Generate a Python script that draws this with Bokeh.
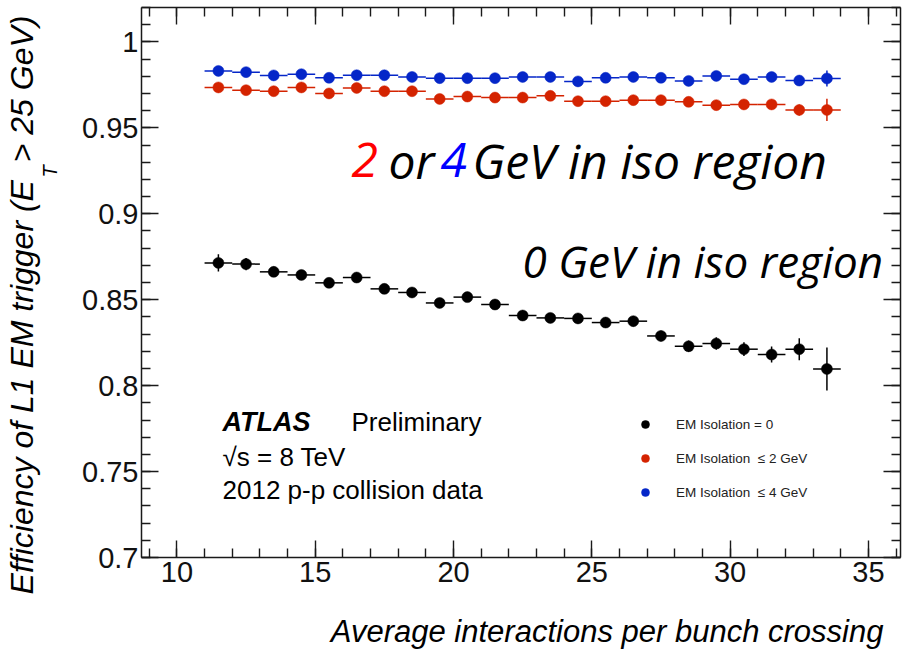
import math
from bokeh.plotting import figure
from bokeh.models import (Range1d, LinearAxis, SingleIntervalTicker, CustomJSTickFormatter,
                          Label, Legend, LegendItem, ColumnDataSource, Title)
from bokeh.embed import file_html
from bokeh.resources import INLINE

# ---- data: L1 EM trigger efficiency vs. pile-up ----
mu = [11.5, 12.5, 13.5, 14.5, 15.5, 16.5, 17.5, 18.5, 19.5, 20.5, 21.5, 22.5,
      23.5, 24.5, 25.5, 26.5, 27.5, 28.5, 29.5, 30.5, 31.5, 32.5, 33.5]
bin_half_width = 0.5

eff_iso0 = [0.8714, 0.8707, 0.8662, 0.8644, 0.8598, 0.8629, 0.8563, 0.8542, 0.8481, 0.8515,
            0.8472, 0.8408, 0.8394, 0.8391, 0.8367, 0.8375, 0.8289, 0.8229, 0.8245, 0.8212,
            0.8181, 0.8212, 0.8097]
err_iso0 = [0.0050, 0.0036, 0.0030, 0.0028, 0.0027, 0.0026, 0.0026, 0.0026, 0.0026, 0.0026,
            0.0027, 0.0027, 0.0028, 0.0028, 0.0029, 0.0030, 0.0031, 0.0033, 0.0036, 0.0040,
            0.0046, 0.0064, 0.0125]

eff_iso2 = [0.9735, 0.9719, 0.9713, 0.9735, 0.9700, 0.9732, 0.9713, 0.9713, 0.9668, 0.9682,
            0.9676, 0.9676, 0.9686, 0.9655, 0.9655, 0.9661, 0.9661, 0.9651, 0.9632, 0.9636,
            0.9636, 0.9604, 0.9604]
err_iso2 = [0.0025, 0.0018, 0.0016, 0.0015, 0.0015, 0.0015, 0.0015, 0.0015, 0.0015, 0.0015,
            0.0015, 0.0015, 0.0016, 0.0016, 0.0016, 0.0017, 0.0018, 0.0019, 0.0020, 0.0022,
            0.0026, 0.0032, 0.0065]

eff_iso4 = [0.9831, 0.9824, 0.9805, 0.9812, 0.9791, 0.9806, 0.9806, 0.9796, 0.9789, 0.9789,
            0.9789, 0.9796, 0.9796, 0.9770, 0.9791, 0.9796, 0.9791, 0.9773, 0.9802, 0.9783,
            0.9796, 0.9775, 0.9787]
err_iso4 = [0.0020, 0.0015, 0.0013, 0.0012, 0.0012, 0.0012, 0.0012, 0.0012, 0.0012, 0.0012,
            0.0012, 0.0012, 0.0013, 0.0013, 0.0013, 0.0014, 0.0015, 0.0016, 0.0017, 0.0019,
            0.0022, 0.0028, 0.0047]

series_labels = ["EM Isolation = 0", "EM Isolation \u00a0\u2264 2 GeV", "EM Isolation \u00a0\u2264 4 GeV"]
series_colors = ["#000000", "#d42300", "#0526c8"]

NB = "\u00a0"
# axis titles are centred on the frame; leading no-break spaces push the words to the far end
x_title = NB * 20 + "Average interactions per bunch crossing"
y_title_main = "Efficiency of L1 EM trigger (E" + NB * 2 + "> 25 GeV)"
y_title_sub = NB * 40 + "T"

X0, X1 = 8.72, 36.16
Y0, Y1 = 0.70, 1.02

W, H = 904, 651
BL, BR, BT, BB = 141, 4, 7, 94

p = figure(width=W, height=H, x_range=Range1d(X0, X1), y_range=Range1d(Y0, Y1),
           output_backend="svg", toolbar_location=None,
           min_border_left=BL, min_border_right=BR, min_border_top=BT, min_border_bottom=BB)
p.outline_line_color = None
p.xgrid.visible = False
p.ygrid.visible = False
p.background_fill_color = "white"
p.border_fill_color = "white"


def style_axis(ax, show_labels):
    ax.major_tick_in = 17
    ax.major_tick_out = 0
    ax.minor_tick_in = 9
    ax.minor_tick_out = 0
    ax.axis_line_width = 1.5
    ax.axis_line_color = "#1a1a1a"
    ax.major_tick_line_width = 1.4
    ax.minor_tick_line_width = 1.4
    ax.major_tick_line_color = "#1a1a1a"
    ax.minor_tick_line_color = "#1a1a1a"
    if show_labels:
        ax.major_label_text_font = "Liberation Sans"
        ax.major_label_text_font_size = "29px"
        ax.major_label_text_color = "#111111"
    else:
        ax.major_label_text_font_size = "1px"
        ax.major_label_text_color = None
        ax.major_label_standoff = 0


def style_axis_title(ax, text, size, standoff):
    ax.axis_label = text
    ax.axis_label_standoff = standoff
    ax.axis_label_text_font = "Liberation Sans"
    ax.axis_label_text_font_style = "italic"
    ax.axis_label_text_font_size = f"{size}px"
    ax.axis_label_text_color = "#000000"


p.xaxis.ticker = SingleIntervalTicker(interval=5, num_minor_ticks=5)
p.yaxis.ticker = SingleIntervalTicker(interval=0.05, num_minor_ticks=5)
style_axis(p.xaxis[0], True)
style_axis(p.yaxis[0], True)
p.xaxis.major_label_standoff = 4
p.yaxis.major_label_standoff = 3
p.yaxis.formatter = CustomJSTickFormatter(
    code="return tick.toFixed(2).replace(/0+$/, '').replace(/\\.$/, '');")

# x title under the tick labels; the E_T subscript sits on the inner y axis
style_axis_title(p.xaxis[0], x_title, 31, 29)
style_axis_title(p.yaxis[0], y_title_sub, 20, 18)

# main y title as a side title, right-aligned to the top of the frame
p.add_layout(Title(text=y_title_main, align="right", vertical_align="bottom", offset=8,
                   standoff=-6, text_font="Liberation Sans", text_font_style="italic",
                   text_font_size="32px", text_color="#000000"), "left")

top_axis = LinearAxis(ticker=SingleIntervalTicker(interval=5, num_minor_ticks=5))
right_axis = LinearAxis(ticker=SingleIntervalTicker(interval=0.05, num_minor_ticks=5))
style_axis(top_axis, False)
style_axis(right_axis, False)
p.add_layout(top_axis, "above")
p.add_layout(right_axis, "right")

# ---- data points with bin-width and statistical error bars ----
renderers = []
for eff, err, color in [(eff_iso0, err_iso0, series_colors[0]),
                        (eff_iso2, err_iso2, series_colors[1]),
                        (eff_iso4, err_iso4, series_colors[2])]:
    src = ColumnDataSource(dict(
        x=mu, y=eff,
        xlo=[m - bin_half_width for m in mu], xhi=[m + bin_half_width for m in mu],
        ylo=[v - e for v, e in zip(eff, err)], yhi=[v + e for v, e in zip(eff, err)],
    ))
    p.segment(x0="xlo", x1="xhi", y0="y", y1="y", source=src, line_color=color, line_width=1.5)
    p.segment(x0="x", x1="x", y0="ylo", y1="yhi", source=src, line_color=color, line_width=1.5)
    r = p.scatter(x="x", y="y", source=src, marker="circle", size=11,
                  fill_color=color, line_color=color, line_width=0.5)
    renderers.append(r)

legend = Legend(items=[LegendItem(label=lab, renderers=[r])
                       for lab, r in zip(series_labels, renderers)],
                location=(494, 55), orientation="vertical",
                glyph_width=20, glyph_height=20, label_height=20, label_standoff=21,
                spacing=14, padding=0, margin=0,
                border_line_color=None, background_fill_alpha=0,
                label_text_font="Liberation Sans", label_text_font_size="13.5px",
                label_text_color="#222222")
p.add_layout(legend)


# ---- text annotations inside the frame (positions in canvas pixels) ----
def dx(px):
    return X0 + (px - BL) / (W - BL - BR) * (X1 - X0)


def dy(py):
    return Y1 - (py - BT) / (H - BT - BB) * (Y1 - Y0)


def put(text, px, baseline, size, color="#000000", style="normal", font="Liberation Sans"):
    p.add_layout(Label(x=dx(px), y=dy(baseline - 0.4 * size), text=text, text_font=font,
                       text_font_size=f"{size}px", text_font_style=style, text_color=color,
                       text_align="left", text_baseline="alphabetic"))


# ATLAS label block
put("ATLAS", 222, 432, 27, style="bold italic")
put("Preliminary", 351, 432, 26)
put("\u221as = 8 TeV", 222, 467, 26)
put("2012 p-p collision data", 222, 500, 26)

# region annotations
put("2", 351, 179, 48, color="#ff0000", style="italic", font="Open Sans")
put("or", 388, 179, 48, style="italic", font="Open Sans")
put("4", 440, 179, 48, color="#0000ff", style="italic", font="Open Sans")
put("GeV in iso region", 472, 179, 48, style="italic", font="Open Sans")
put("0 GeV in iso region", 522, 278, 44, style="italic", font="Open Sans")

open("out.html", "w").write(file_html(p, INLINE))
